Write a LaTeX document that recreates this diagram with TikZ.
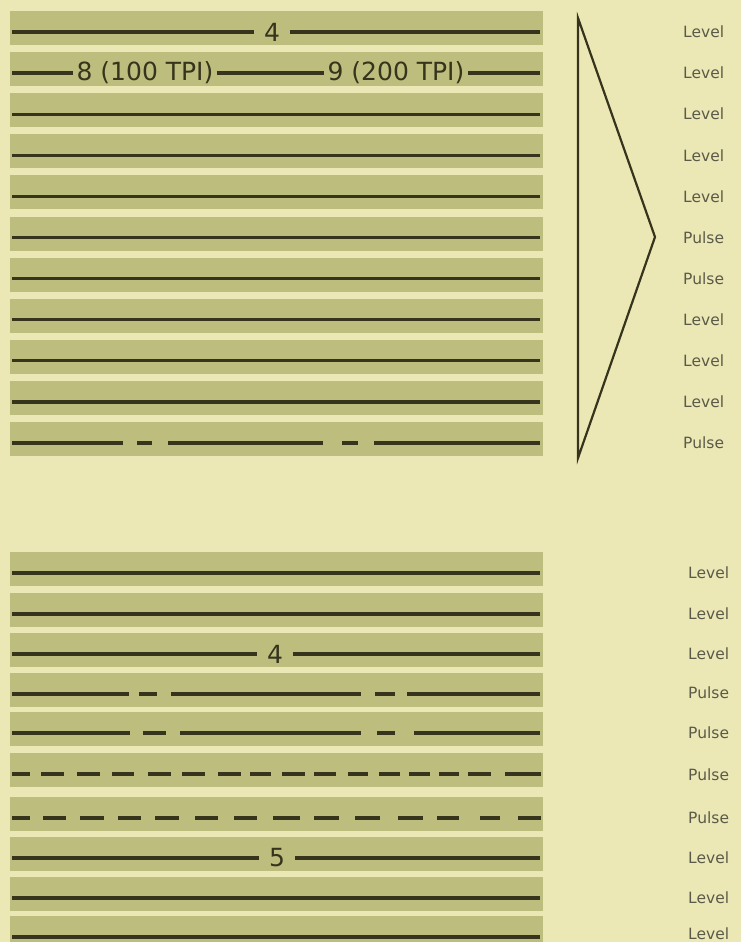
\documentclass[tikz,border=0pt]{standalone}
\usepackage{fontspec}
\setmainfont{DejaVu Sans}
\definecolor{bg}{HTML}{ECE8B6}
\definecolor{band}{HTML}{BDBE7E}
\definecolor{ink}{HTML}{36341C}
\definecolor{lab}{HTML}{5A5A48}
\tikzset{
  trk/.style={draw=ink,line width=3.2pt},
  bandbox/.style={fill=band},
  numlab/.style={font=\fontsize{25}{25}\selectfont,text=ink,inner sep=0pt,minimum width=35pt,minimum height=20pt},
  tpilab/.style={font=\fontsize{25}{25}\selectfont,text=ink,inner ysep=0pt,inner xsep=3pt,minimum height=20pt},
  sidelab/.style={font=\fontsize{15.5}{15.5}\selectfont,text=lab,anchor=west,inner sep=0pt},
  tri/.style={draw=ink,line width=2.2pt,line join=miter}
}
\begin{document}
\begin{tikzpicture}[x=1pt,y=-1pt]
\fill[bg] (0,0) rectangle (741,942);
\useasboundingbox (0,0) rectangle (741,942);
% ---------- top group ----------
\foreach \i in {0,...,10}{
  \pgfmathsetmacro\ly{32+41.1*\i}
  \fill[bandbox] (10,\ly-21) rectangle (543,\ly+13);
}
% band 1 with "4"
\node[numlab] (ta) at (272,32) {4};
\coordinate (taL) at (12,32); \coordinate (taR) at (540,32);
\draw[trk] (taL) -- (ta.west) (ta.east) -- (taR);
% band 2 with TPI
\node[tpilab] (t8) at (145,73.1) {8 (100 TPI)};
\node[tpilab] (t9) at (396,73.1) {9 (200 TPI)};
\coordinate (tbL) at (12,73.1); \coordinate (tbR) at (540,73.1);
\draw[trk] (tbL) -- (t8.west) (t8.east) -- (t9.west) (t9.east) -- (tbR);
% bands 3..10 solid
\foreach \i in {2,...,9}{
  \pgfmathsetmacro\ly{32+41.1*\i}
  \draw[trk] (12,\ly) -- (540,\ly);
}
% band 11 pulse pattern
\foreach \a/\b in {12/123,137/152,168/323,342/358,374/540}
  \draw[trk] (\a,443) -- (\b,443);
% bracket triangle
\coordinate (trT) at (578,18);
\coordinate (trA) at (655,237);
\coordinate (trB) at (578,458);
\draw[tri] (trT) -- (trA) -- (trB) -- cycle;
% labels top
\foreach \i/\t in {0/Level,1/Level,2/Level,3/Level,4/Level,5/Pulse,6/Pulse,7/Level,8/Level,9/Level,10/Pulse}{
  \pgfmathsetmacro\ly{32+41.1*\i}
  \node[sidelab] (tl\i) at (683,\ly) {\t};
}
% ---------- bottom group ----------
\foreach \y in {573,614,654,694,733,774,818,858,898,937}{
  \fill[bandbox] (10,\y-21) rectangle (543,\y+13);
}
\draw[trk] (12,573) -- (540,573);
\draw[trk] (12,614) -- (540,614);
\node[numlab] (b4) at (275,654) {4};
\coordinate (bcL) at (12,654); \coordinate (bcR) at (540,654);
\draw[trk] (bcL) -- (b4.west) (b4.east) -- (bcR);
\foreach \a/\b in {12/129,139/157,171/361,375/395,407/540}
  \draw[trk] (\a,694) -- (\b,694);
\foreach \a/\b in {12/130,143/166,180/361,377/395,414/540}
  \draw[trk] (\a,733) -- (\b,733);
\foreach \a/\b in {12/30,41/64,77/100,112/134,148/171,182/205,218/241,250/271,282/305,314/336,348/368,379/400,409/430,439/459,468/491,505/541}
  \draw[trk] (\a,774) -- (\b,774);
\foreach \a/\b in {12/30,43/66,80/104,118/141,155/179,195/218,234/257,273/300,314/339,355/380,398/423,437/459,480/500,518/541}
  \draw[trk] (\a,818) -- (\b,818);
\node[numlab] (b5) at (277,858) {5};
\coordinate (bhL) at (12,858); \coordinate (bhR) at (540,858);
\draw[trk] (bhL) -- (b5.west) (b5.east) -- (bhR);
\draw[trk] (12,898) -- (540,898);
\draw[trk] (12,937) -- (540,937);
\foreach \y/\t/\n in {573/Level/1,614/Level/2,654/Level/3,693/Pulse/4,733/Pulse/5,775/Pulse/6,818/Pulse/7,858/Level/8,898/Level/9,934/Level/10}{
  \node[sidelab] (bl\n) at (688,\y) {\t};
}
\end{tikzpicture}
\end{document}
